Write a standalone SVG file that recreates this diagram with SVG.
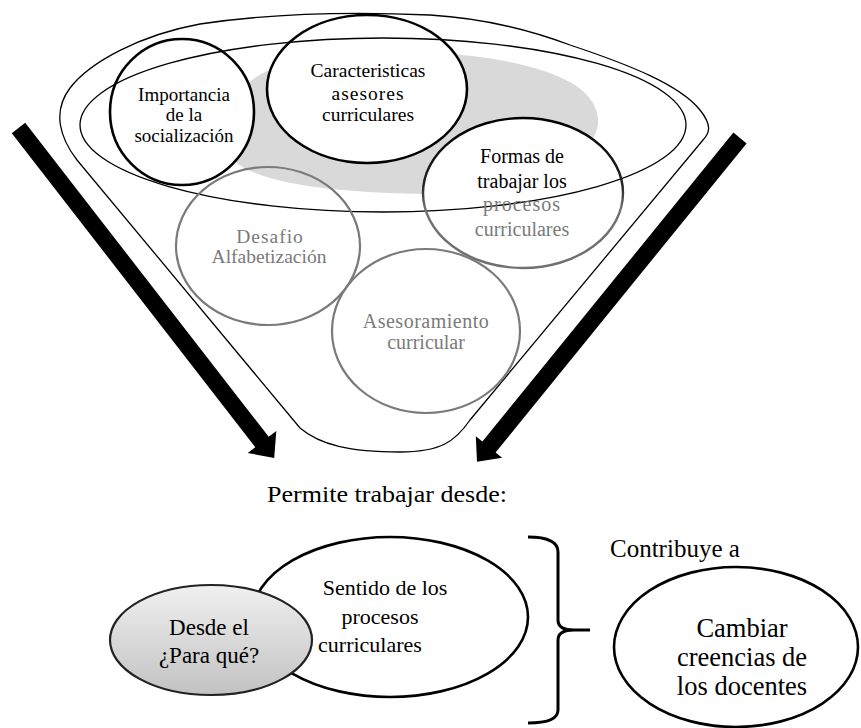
<svg xmlns="http://www.w3.org/2000/svg" width="861" height="728" viewBox="0 0 861 728">
<defs>
<style>
.t{font-family:"Liberation Serif","Times New Roman",serif;text-anchor:middle;fill:#000}
.g{fill:#7a7a7a}
.fl{fill:none;stroke:#000;stroke-width:1.3}
.bk{fill:none;stroke:#000;stroke-width:2.6}
.gy{fill:none;stroke:#7a7a7a;stroke-width:2.2}
</style>
<linearGradient id="formasStroke" x1="0" y1="0" x2="0" y2="1">
<stop offset="0" stop-color="#000"/><stop offset="0.45" stop-color="#222"/><stop offset="0.6" stop-color="#707070"/><stop offset="1" stop-color="#707070"/>
</linearGradient>
<linearGradient id="grayFill" x1="0" y1="0" x2="0" y2="1">
<stop offset="0" stop-color="#f0f0f0"/><stop offset="1" stop-color="#c2c2c2"/>
</linearGradient>
<mask id="holes">
<rect x="0" y="0" width="861" height="728" fill="#fff"/>
<ellipse cx="182" cy="112" rx="72" ry="73" fill="#000"/>
<ellipse cx="367" cy="89" rx="100" ry="74" fill="#000"/>
<ellipse cx="523" cy="193" rx="100" ry="75" fill="#000"/>
</mask>
</defs>
<rect x="0" y="0" width="861" height="728" fill="#fff"/>

<g id="funnel">
<path d="M233,160 C215,110 240,72 300,60 C380,45 520,50 575,85 C605,105 605,135 580,150 C540,175 480,195 430,194 C340,193 260,185 233,160 Z" fill="#d9d9d9" mask="url(#holes)"/>
<path class="fl" d="M300,428 L77,160 C60,138 52,112 70,88 C90,62 140,35 200,24 C280,12 360,12 430,15 C480,18 530,30 570,45 C630,65 680,85 700,110 C712,125 710,133 703,140 L470,420 C455,442 440,452 400,452 C350,452 320,445 300,428 Z"/>
<ellipse class="fl" cx="383" cy="125" rx="303" ry="87"/>
</g>

<g id="connectors">
<polygon points="25.2,122.8 268.7,436.8 276.3,431 274.2,457.9 247.7,453 255.3,447.2 11.8,133.2" fill="#000"/>
<polygon points="733.4,132.6 746.6,143.4 495.6,452.4 502.2,457.7 477,461.7 475.8,436.3 482.4,441.6" fill="#000"/>
<path d="M528,537 Q558,537 558,552 L558,620 Q558,630 574,630 L590,630 M574,630 Q558,630 558,640 L558,710 Q558,723 528,723" fill="none" stroke="#000" stroke-width="3"/>
</g>

<g id="importancia">
<ellipse class="bk" cx="182" cy="112" rx="72" ry="73"/>
<text class="t" font-size="19" x="184" y="101">Importancia</text>
<text class="t" font-size="19" x="184" y="121">de la</text>
<text class="t" font-size="19" x="184" y="142">socialización</text>
</g>

<g id="caracteristicas">
<ellipse class="bk" cx="367" cy="89" rx="100" ry="74"/>
<text class="t" font-size="19.5" x="368" y="77">Caracteristicas</text>
<text class="t" font-size="19.5" x="368" y="100" letter-spacing="1">asesores</text>
<text class="t" font-size="19.5" x="368" y="121">curriculares</text>
</g>

<g id="formas">
<ellipse cx="523" cy="193" rx="100" ry="75" fill="none" stroke="url(#formasStroke)" stroke-width="2.4"/>
<text class="t" font-size="20" x="522" y="163">Formas de</text>
<text class="t" font-size="20" x="522" y="188">trabajar los</text>
<text class="t g" font-size="20" x="522" y="211" letter-spacing="1">procesos</text>
<text class="t g" font-size="20" x="522" y="236">curriculares</text>
</g>

<g id="desafio">
<ellipse class="gy" cx="268" cy="246" rx="92" ry="79"/>
<text class="t g" font-size="19.5" x="270" y="243" letter-spacing="1">Desafio</text>
<text class="t g" font-size="19.5" x="269" y="263">Alfabetización</text>
</g>

<g id="asesoramiento">
<ellipse class="gy" cx="426" cy="331" rx="94" ry="82"/>
<text class="t g" font-size="20" x="426" y="328" letter-spacing="0.5">Asesoramiento</text>
<text class="t g" font-size="20" x="426" y="349">curricular</text>
</g>

<g id="permite">
<text font-family="Liberation Serif, Times New Roman, serif" font-size="24" x="267" y="502" textLength="240" lengthAdjust="spacingAndGlyphs">Permite trabajar desde:</text>
</g>

<g id="sentido">
<ellipse class="bk" cx="390" cy="617" rx="138" ry="80" fill="#fff"/>
<text class="t" font-size="22" x="385" y="595">Sentido  de los</text>
<text class="t" font-size="22" x="380" y="624">procesos</text>
<text class="t" font-size="22" x="370" y="652">curriculares</text>
</g>

<g id="desde">
<ellipse cx="211" cy="640" rx="101" ry="55" fill="url(#grayFill)" stroke="#222" stroke-width="2.2"/>
<text class="t" font-size="23" x="209" y="635">Desde el</text>
<text class="t" font-size="23" x="209" y="663">¿Para qué?</text>
</g>

<g id="contribuye">
<text font-family="Liberation Serif, Times New Roman, serif" font-size="25" x="610" y="557">Contribuye a</text>
</g>

<g id="cambiar">
<ellipse class="bk" cx="736" cy="647" rx="122" ry="80"/>
<text class="t" font-size="26.5" x="742" y="637">Cambiar</text>
<text class="t" font-size="26.5" x="742" y="666">creencias  de</text>
<text class="t" font-size="26.5" x="742" y="695">los  docentes</text>
</g>
</svg>
